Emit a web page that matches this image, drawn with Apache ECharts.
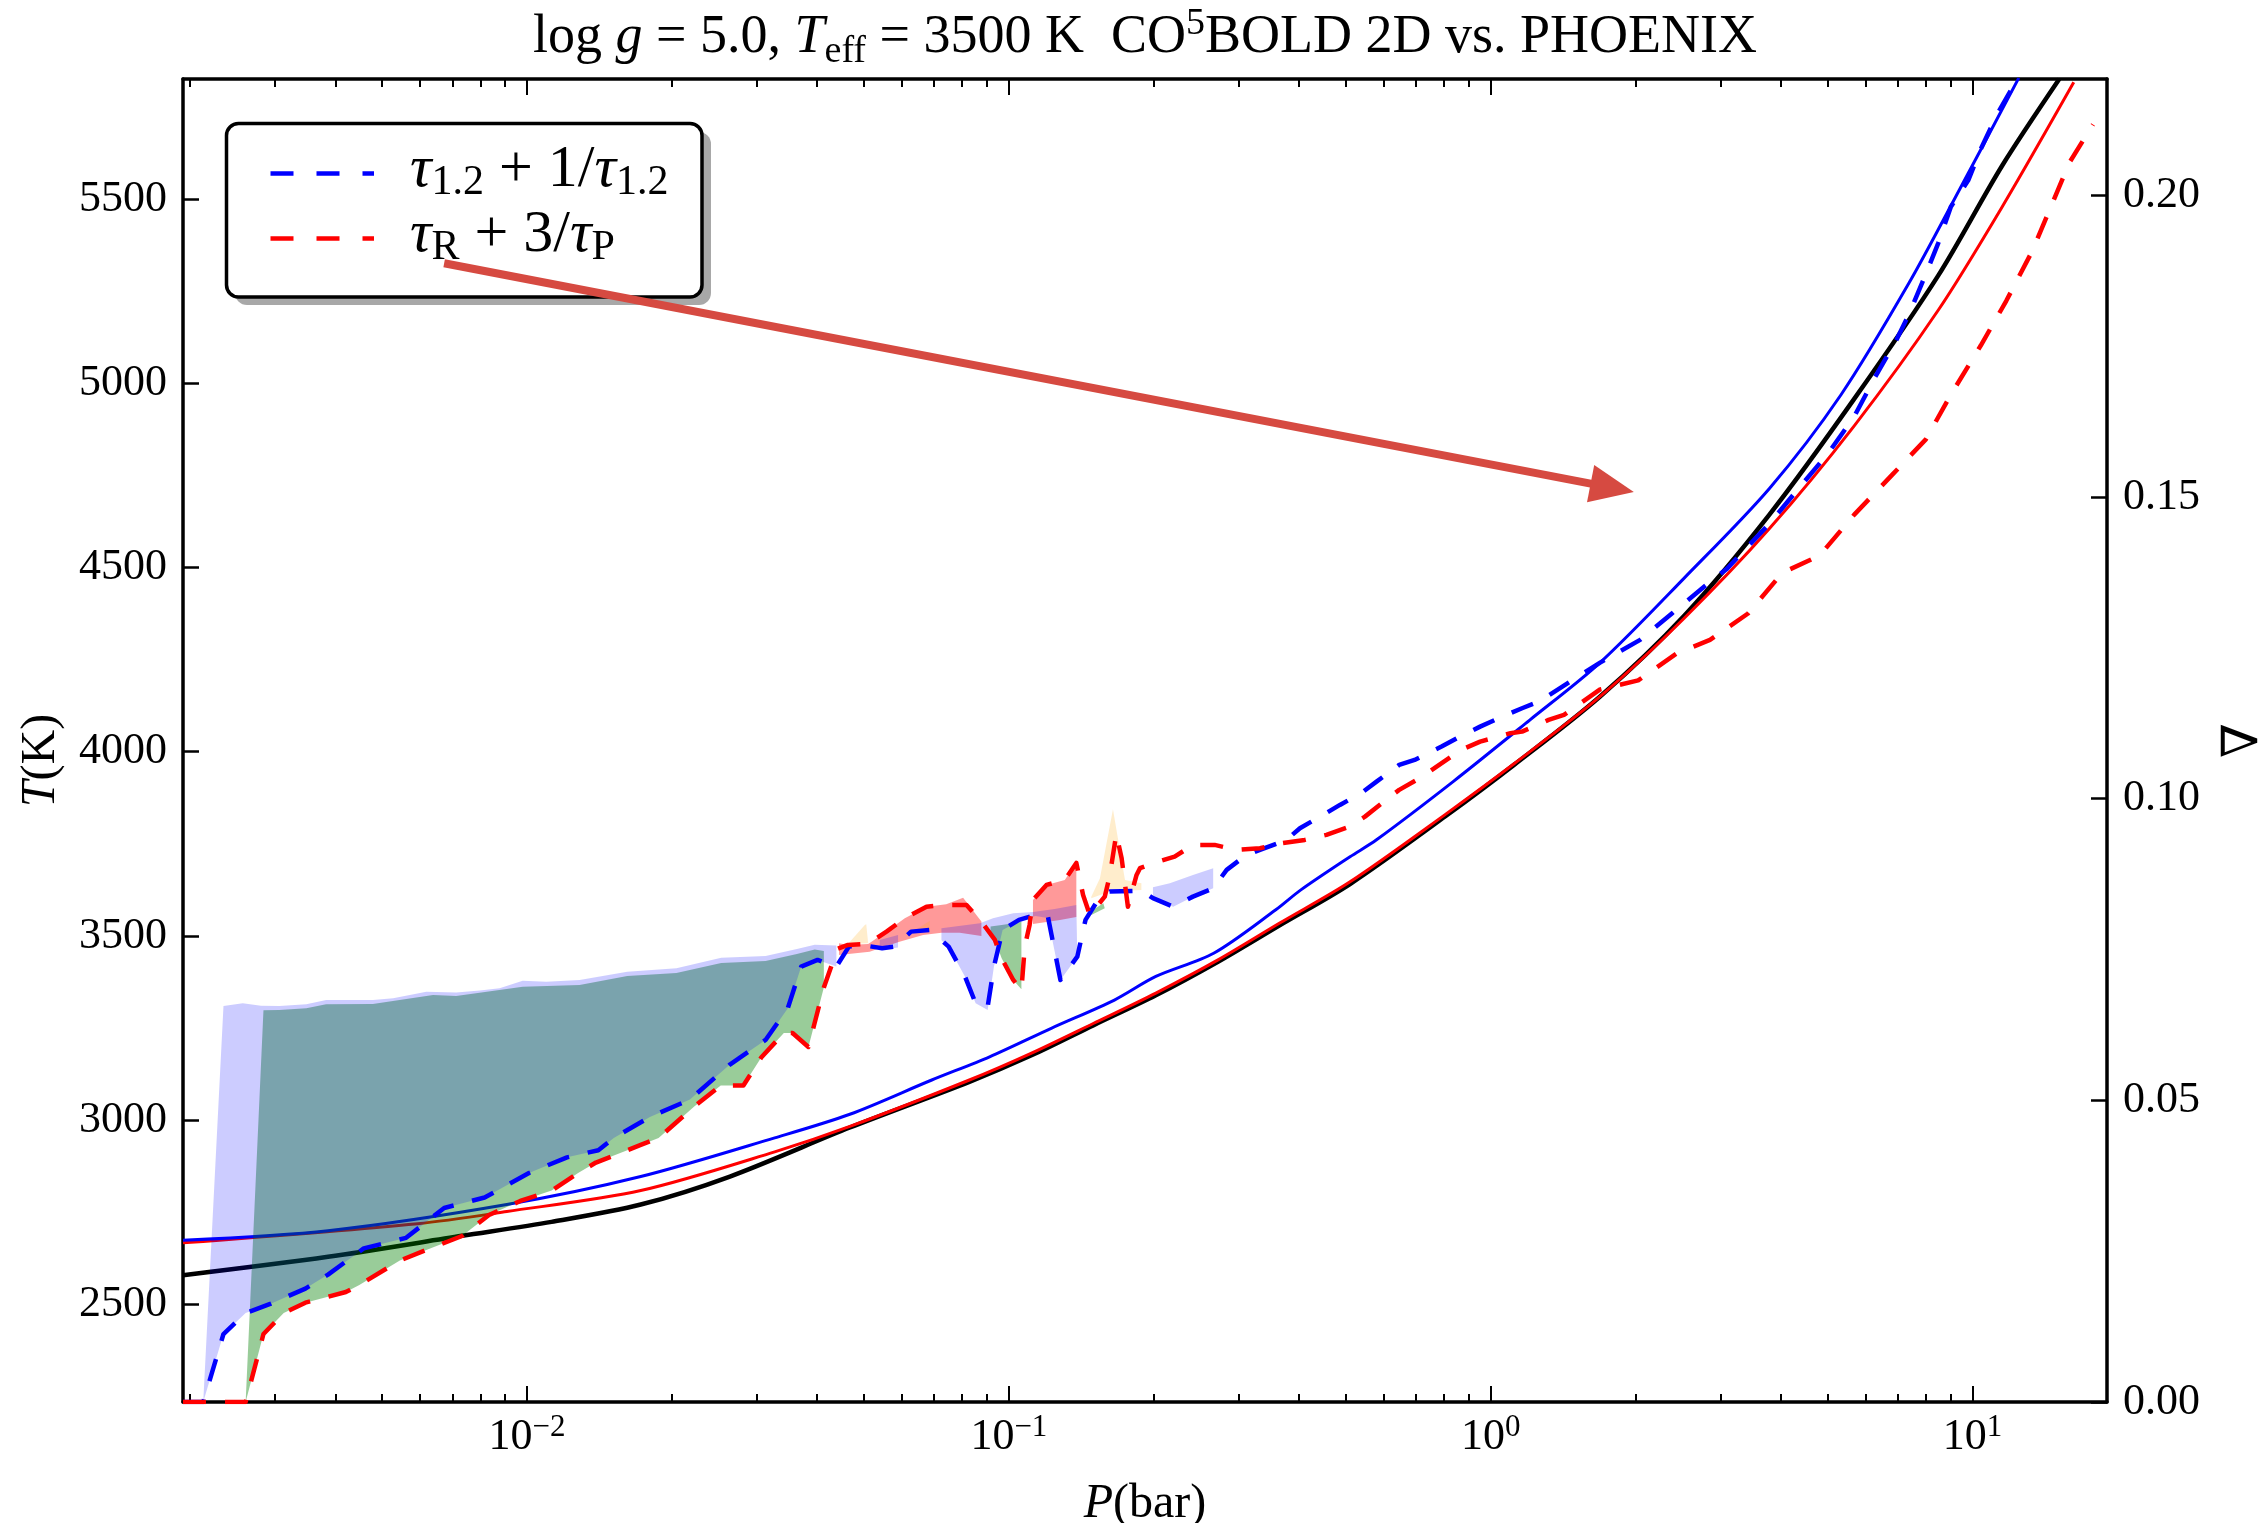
<!DOCTYPE html>
<html>
<head>
<meta charset="utf-8">
<script src="https://cdn.jsdelivr.net/npm/echarts@6.0.0/dist/echarts.min.js"></script>
<style>
html,body{margin:0;padding:0;background:#fff;}
#chart{width:2260px;height:1523px;}
</style>
</head>
<body>
<div id="chart"></div>
<script>
// ---------------- DATA (x = log10 P[bar]) ----------------
// Temperature profiles T(K) vs log10 P
const blackSolid = [[-2.714,2579],[-2.413,2629],[-2.135,2686],[-1.949,2724],[-1.764,2771],[-1.579,2847],[-1.330,2980],[-1.082,3104],[-0.953,3176],[-0.824,3258],[-0.695,3339],[-0.566,3430],[-0.438,3529],[-0.292,3641],[-0.094,3825],[0.049,3965],[0.227,4150],[0.402,4370],[0.578,4643],[0.754,4957],[0.929,5293],[1.061,5590],[1.180,5826]];
const redSolid = [[-2.714,2667],[-2.227,2719],[-2.042,2752],[-1.764,2809],[-1.486,2914],[-1.330,2983],[-1.082,3109],[-0.953,3182],[-0.824,3263],[-0.695,3345],[-0.566,3435],[-0.438,3535],[-0.292,3647],[-0.094,3830],[0.049,3968],[0.227,4150],[0.402,4363],[0.578,4605],[0.754,4884],[0.929,5199],[1.061,5478],[1.210,5817]];
const blueSolid = [[-2.714,2674],[-2.413,2700],[-2.042,2771],[-1.764,2847],[-1.486,2952],[-1.330,3016],[-1.160,3109],[-1.040,3172],[-0.911,3250],[-0.781,3326],[-0.695,3390],[-0.575,3453],[-0.446,3571],[-0.394,3625],[-0.292,3715],[-0.237,3761],[-0.078,3919],[0.081,4086],[0.227,4242],[0.402,4472],[0.578,4714],[0.727,4969],[0.868,5272],[0.973,5526],[1.096,5829]];

// Gradient nabla vs log10 P
const blueDashed = [[-2.714,0],[-2.672,0],[-2.630,0.01127],[-2.584,0.01475],[-2.533,0.01625],[-2.460,0.01880],[-2.413,0.02112],[-2.339,0.02546],[-2.251,0.02721],[-2.172,0.03216],[-2.088,0.03389],[-1.996,0.03796],[-1.917,0.04055],[-1.852,0.04173],[-1.820,0.04377],[-1.745,0.04725],[-1.662,0.05013],[-1.579,0.05594],[-1.505,0.06001],[-1.459,0.06524],[-1.431,0.07217],[-1.397,0.07328],[-1.358,0.07217],[-1.332,0.07548],[-1.306,0.07576],[-1.263,0.07522],[-1.237,0.07548],[-1.203,0.07797],[-1.164,0.07825],[-1.125,0.07548],[-1.091,0.07051],[-1.069,0.06610],[-1.044,0.06553],[-1.031,0.07217],[-1.013,0.07825],[-0.979,0.07991],[-0.945,0.08074],[-0.919,0.08046],[-0.893,0.06996],[-0.858,0.07382],[-0.841,0.07991],[-0.815,0.08322],[-0.791,0.08460],[-0.725,0.08477],[-0.701,0.08351],[-0.659,0.08211],[-0.618,0.08377],[-0.576,0.08516],[-0.548,0.08820],[-0.510,0.09052],[-0.479,0.09151],[-0.424,0.09317],[-0.396,0.09511],[-0.348,0.09731],[-0.313,0.09897],[-0.269,0.10091],[-0.237,0.10284],[-0.190,0.10560],[-0.158,0.10643],[-0.102,0.10864],[-0.070,0.11003],[-0.022,0.11195],[0.017,0.11335],[0.065,0.11500],[0.100,0.11610],[0.227,0.12256],[0.310,0.12633],[0.376,0.13070],[0.455,0.13594],[0.490,0.13810],[0.525,0.14108],[0.578,0.14556],[0.639,0.15143],[0.701,0.15734],[0.754,0.16330],[0.798,0.16993],[0.841,0.17590],[0.868,0.18029],[0.903,0.18695],[0.929,0.19214],[0.955,0.19811],[0.991,0.20250],[1.017,0.20768],[1.052,0.21360],[1.092,0.21916]];
const redDashed = [[-2.714,0],[-2.584,0],[-2.547,0.01127],[-2.505,0.01475],[-2.460,0.01646],[-2.376,0.01824],[-2.348,0.01940],[-2.264,0.02344],[-2.209,0.02520],[-2.135,0.02752],[-2.079,0.03100],[-2.014,0.03332],[-1.949,0.03505],[-1.894,0.03796],[-1.857,0.03969],[-1.764,0.04261],[-1.727,0.04377],[-1.653,0.04897],[-1.598,0.05245],[-1.551,0.05245],[-1.514,0.05710],[-1.467,0.06117],[-1.449,0.06117],[-1.416,0.05885],[-1.384,0.06872],[-1.356,0.07510],[-1.334,0.07576],[-1.292,0.07593],[-1.254,0.07797],[-1.216,0.08019],[-1.171,0.08211],[-1.130,0.08240],[-1.088,0.08240],[-1.057,0.07963],[-1.029,0.07659],[-1.015,0.07356],[-0.991,0.06996],[-0.974,0.06830],[-0.967,0.07548],[-0.957,0.07908],[-0.950,0.08322],[-0.922,0.08571],[-0.884,0.08654],[-0.860,0.08936],[-0.846,0.08405],[-0.832,0.08074],[-0.801,0.08377],[-0.791,0.08709],[-0.777,0.09416],[-0.766,0.09014],[-0.753,0.08211],[-0.735,0.08737],[-0.728,0.08848],[-0.701,0.08931],[-0.656,0.09040],[-0.618,0.09234],[-0.573,0.09234],[-0.527,0.09151],[-0.479,0.09180],[-0.434,0.09262],[-0.386,0.09317],[-0.341,0.09400],[-0.293,0.09538],[-0.261,0.09703],[-0.213,0.10008],[-0.190,0.10146],[-0.142,0.10367],[-0.062,0.10809],[-0.022,0.10947],[0.041,0.11086],[0.065,0.11113],[0.120,0.11306],[0.152,0.11389],[0.227,0.11812],[0.306,0.11961],[0.385,0.12404],[0.455,0.12633],[0.534,0.13070],[0.605,0.13743],[0.683,0.14034],[0.754,0.14705],[0.833,0.15368],[0.903,0.15957],[0.955,0.16698],[1.017,0.17512],[1.070,0.18253],[1.123,0.19065],[1.166,0.19879],[1.201,0.20545],[1.250,0.21176]];

// Upper boundaries of the large shaded regions (nabla)
const lavenderTop = [[-2.672,0],[-2.630,0.06565],[-2.590,0.06610],[-2.552,0.06570],[-2.514,0.06565],[-2.458,0.06593],[-2.417,0.06664],[-2.320,0.06664],[-2.278,0.06693],[-2.209,0.06802],[-2.147,0.06786],[-2.098,0.06819],[-2.057,0.06858],[-2.009,0.06984],[-1.960,0.06968],[-1.891,0.06996],[-1.792,0.07132],[-1.690,0.07190],[-1.597,0.07364],[-1.505,0.07394],[-1.440,0.07510],[-1.403,0.07580],[-1.358,0.07568]];
const greenTop = [[-2.584,0],[-2.547,0.06494],[-2.514,0.06499],[-2.458,0.06527],[-2.417,0.06593],[-2.320,0.06598],[-2.195,0.06747],[-2.147,0.06731],[-2.009,0.06885],[-1.891,0.06913],[-1.792,0.07062],[-1.690,0.07112],[-1.597,0.07278],[-1.505,0.07311],[-1.440,0.07427],[-1.403,0.07502],[-1.384,0.07477]];

// Small shaded regions (closed outlines, nabla)
const redPatchA = [[-1.3525,0.07604],[-1.334,0.07576],[-1.292,0.07593],[-1.254,0.07797],[-1.216,0.08019],[-1.171,0.08211],[-1.130,0.08251],[-1.095,0.08360],[-1.057,0.07963],[-1.057,0.07725],[-1.102,0.07780],[-1.140,0.07780],[-1.178,0.07742],[-1.227,0.07631],[-1.268,0.07522],[-1.289,0.07465],[-1.3525,0.07411]];
const redPatchC = [[-0.950,0.08322],[-0.922,0.08571],[-0.884,0.08654],[-0.860,0.08936],[-0.860,0.08040],[-0.894,0.07991],[-0.950,0.07925]];
const greenPatchC = [[-1.038,0.07880],[-1.015,0.07908],[-0.991,0.07936],[-0.974,0.07963],[-0.974,0.06842],[-0.991,0.06996],[-1.015,0.07356],[-1.029,0.07659],[-1.038,0.07797]];
const greenPatchD = [[-0.836,0.08107],[-0.804,0.08268],[-0.801,0.08185],[-0.829,0.08074]];
const orangePatchA = [[-1.334,0.07593],[-1.299,0.07908],[-1.296,0.07919],[-1.292,0.07604]];
const orangePatchB = [[-1.199,0.07797],[-1.164,0.07979],[-1.164,0.07808]];
const orangeSpike = [[-0.829,0.08377],[-0.811,0.08682],[-0.784,0.09826],[-0.759,0.08654],[-0.725,0.08599],[-0.725,0.08488],[-0.791,0.08460],[-0.829,0.08350]];
const lavenderPatchA = [[-1.268,0.07659],[-1.230,0.07742],[-1.230,0.07535],[-1.251,0.07510],[-1.268,0.07522]];
const lavenderPatchB = [[-1.140,0.07853],[-1.060,0.07936],[-1.033,0.08019],[-0.991,0.08102],[-0.950,0.08123],[-0.905,0.08173],[-0.860,0.08239],[-0.858,0.07382],[-0.893,0.06996],[-0.919,0.08024],[-0.945,0.08057],[-0.979,0.07974],[-1.013,0.07825],[-1.031,0.07217],[-1.044,0.06499],[-1.069,0.06610],[-1.091,0.07051],[-1.125,0.07548],[-1.140,0.07653]];
const lavenderPatchE = [[-0.701,0.08533],[-0.666,0.08599],[-0.618,0.08737],[-0.576,0.08848],[-0.576,0.08516],[-0.618,0.08377],[-0.659,0.08211],[-0.701,0.08350]];

// Annotation arrow (log10 P, T)
const arrowStart = [-2.172, 5326];
const arrowTip = [0.297, 4705];

// Axis ticks
const xMajorExp = [-2, -1, 0, 1];
const xMinorP = [0.002,0.003,0.004,0.005,0.006,0.007,0.008,0.009,0.02,0.03,0.04,0.05,0.06,0.07,0.08,0.09,0.2,0.3,0.4,0.5,0.6,0.7,0.8,0.9,2,3,4,5,6,7,8,9];
const tTicks = [2500,3000,3500,4000,4500,5000,5500];
const nablaTicks = [0,0.05,0.10,0.15,0.20];

// ---------------- STYLE ----------------
const FONT = "'Liberation Serif','DejaVu Serif',serif";
const XMIN = -2.714, XMAX = 1.279;
const C_GREEN = 'rgba(0,128,0,0.4)', C_RED = 'rgba(255,0,0,0.4)', C_ORANGE = 'rgba(255,165,0,0.2)', C_LAV = 'rgba(0,0,255,0.2)';
const ARROW = '#d64a41';

const polyBetween = (top, bottom) => top.concat(bottom.slice().reverse());
const fills = [
  {poly: polyBetween(greenTop, redDashed.slice(1, 25)), color: C_GREEN},
  {poly: greenPatchC, color: C_GREEN},
  {poly: greenPatchD, color: C_GREEN},
  {poly: redPatchA, color: C_RED},
  {poly: redPatchC, color: C_RED},
  {poly: orangePatchA, color: C_ORANGE},
  {poly: orangePatchB, color: C_ORANGE},
  {poly: orangeSpike, color: C_ORANGE},
  {poly: polyBetween(lavenderTop, blueDashed.slice(1, 23)), color: C_LAV},
  {poly: lavenderPatchA, color: C_LAV},
  {poly: lavenderPatchB, color: C_LAV},
  {poly: lavenderPatchE, color: C_LAV}
];

const minorLog = xMinorP.map(v => Math.log10(v));
const supText = e => (e < 0 ? '\u2212' + (-e) : String(e));

function xAxisDef(pos, major) {
  return {
    type: 'value', gridIndex: 0, position: pos, min: XMIN, max: XMAX, offset: 0,
    axisLine: {show: major, onZero: false, lineStyle: {color: '#000', width: 3.5}},
    axisTick: {show: true, inside: true, length: major ? 16 : 8, customValues: major ? xMajorExp : minorLog,
               lineStyle: {color: '#000', width: 2}},
    axisLabel: (major && pos === 'bottom') ? {
      show: true, customValues: xMajorExp, margin: 10,
      formatter: v => '{b|10}{s|' + supText(Math.round(v)) + '}',
      rich: {b: {fontFamily: FONT, fontSize: 44, lineHeight: 50, color: '#000'},
             s: {fontFamily: FONT, fontSize: 31, lineHeight: 40, verticalAlign: 'top', color: '#000'}}
    } : {show: false},
    splitLine: {show: false}
  };
}

const xAxes = [xAxisDef('bottom', true), xAxisDef('bottom', false), xAxisDef('top', true), xAxisDef('top', false)];
xAxes[0].name = '{i|P}{n|(bar)}';
xAxes[0].nameLocation = 'middle';
xAxes[0].nameGap = 78;
xAxes[0].nameTextStyle = {rich: {i: {fontFamily: FONT, fontSize: 48, fontStyle: 'italic', color: '#000'},
                                 n: {fontFamily: FONT, fontSize: 48, color: '#000'}}};

const yAxes = [
  {
    type: 'value', gridIndex: 0, position: 'left', min: 2235, max: 5826,
    axisLine: {show: true, onZero: false, lineStyle: {color: '#000', width: 3.5}},
    axisTick: {show: true, inside: true, length: 16, customValues: tTicks, lineStyle: {color: '#000', width: 2.5}},
    axisLabel: {show: true, customValues: tTicks, margin: 16, formatter: v => String(v),
                fontFamily: FONT, fontSize: 44, color: '#000'},
    splitLine: {show: false},
    name: '{i|T}{n|(K)}', nameLocation: 'middle', nameGap: 118, nameRotate: 90,
    nameTextStyle: {padding: [0, 40, 0, 0],
                    rich: {i: {fontFamily: FONT, fontSize: 48, fontStyle: 'italic', color: '#000'},
                           n: {fontFamily: FONT, fontSize: 48, color: '#000'}}}
  },
  {
    type: 'value', gridIndex: 0, position: 'right', min: 0, max: 0.2193,
    axisLine: {show: true, onZero: false, lineStyle: {color: '#000', width: 3.5}},
    axisTick: {show: true, inside: true, length: 16, customValues: nablaTicks, lineStyle: {color: '#000', width: 2.5}},
    axisLabel: {show: true, customValues: nablaTicks, margin: 16, formatter: v => v.toFixed(2),
                fontFamily: FONT, fontSize: 44, color: '#000'},
    splitLine: {show: false},
    name: '\u2207', nameLocation: 'middle', nameGap: 112, nameRotate: 90,
    nameTextStyle: {fontFamily: FONT, fontSize: 50, color: '#000'}
  }
];

function lineSeries(data, yIdx, color, width, dashed, z) {
  return {
    type: 'line', data: data, xAxisIndex: 0, yAxisIndex: yIdx, showSymbol: false, symbol: 'none',
    smooth: dashed ? false : 0.3,
    lineStyle: {color: color, width: width, type: dashed ? [23, 19] : 'solid', cap: 'butt', join: 'round'},
    z: z, silent: true, animation: false, clip: true
  };
}

const series = [
  lineSeries(blackSolid, 0, '#000000', 4.5, false, 2),
  lineSeries(redSolid, 0, '#ff0000', 3, false, 2),
  lineSeries(blueSolid, 0, '#0000ff', 3, false, 2),
  {
    type: 'custom', xAxisIndex: 0, yAxisIndex: 1, z: 3, silent: true, animation: false,
    data: fills.map((f, i) => [f.poly[0][0], f.poly[0][1], i]),
    encode: {x: 0, y: 1},
    renderItem: (params, api) => {
      const f = fills[params.dataIndex];
      return {type: 'polygon', shape: {points: f.poly.map(p => api.coord(p))}, style: {fill: f.color}};
    }
  },
  lineSeries(blueDashed, 1, '#0000ff', 4.5, true, 4),
  lineSeries(redDashed, 1, '#ff0000', 4.5, true, 4),
  {
    type: 'custom', xAxisIndex: 0, yAxisIndex: 0, z: 10, silent: true, animation: false,
    data: [[arrowStart[0], arrowStart[1], arrowTip[0], arrowTip[1]]],
    encode: {x: [0, 2], y: [1, 3]},
    renderItem: (params, api) => {
      const a = api.coord([api.value(0), api.value(1)]);
      const b = api.coord([api.value(2), api.value(3)]);
      const dx = b[0] - a[0], dy = b[1] - a[1], L = Math.hypot(dx, dy), ux = dx / L, uy = dy / L;
      const hL = 44, hW = 38;
      const bx = b[0] - ux * hL, by = b[1] - uy * hL;
      return {type: 'group', children: [
        {type: 'line', shape: {x1: a[0], y1: a[1], x2: bx + ux * 4, y2: by + uy * 4},
         style: {stroke: ARROW, lineWidth: 8, lineCap: 'butt'}},
        {type: 'polygon', shape: {points: [[b[0], b[1]], [bx - uy * hW / 2, by + ux * hW / 2], [bx + uy * hW / 2, by - ux * hW / 2]]},
         style: {fill: ARROW}}
      ]};
    }
  }
];

const richLegend = {
  i: {fontFamily: FONT, fontSize: 60, fontStyle: 'italic', lineHeight: 68, fill: '#000'},
  n: {fontFamily: FONT, fontSize: 60, lineHeight: 68, fill: '#000'},
  s: {fontFamily: FONT, fontSize: 42, lineHeight: 46, verticalAlign: 'bottom', fill: '#000'}
};
const richTitle = {
  n: {fontFamily: FONT, fontSize: 54, lineHeight: 66, fill: '#000'},
  i: {fontFamily: FONT, fontSize: 54, fontStyle: 'italic', lineHeight: 66, fill: '#000'},
  sub: {fontFamily: FONT, fontSize: 38, lineHeight: 36, verticalAlign: 'bottom', fill: '#000'},
  sup: {fontFamily: FONT, fontSize: 38, lineHeight: 44, verticalAlign: 'top', fill: '#000'}
};

const graphic = [
  {type: 'text', x: 1145, y: 38, z: 1,
   style: {text: '{n|log }{i|g}{n| = 5.0, }{i|T}{sub|eff}{n| = 3500 K  CO}{sup|5}{n|BOLD 2D vs. PHOENIX}',
           rich: richTitle, align: 'center', verticalAlign: 'middle'}},
  {type: 'rect', z: 1, shape: {x: 235, y: 132, width: 476, height: 173, r: 12}, style: {fill: '#a8a8a8'}},
  {type: 'rect', z: 1, shape: {x: 226.5, y: 123.5, width: 475.5, height: 173.5, r: 12},
   style: {fill: '#ffffff', stroke: '#000000', lineWidth: 3.5}},
  {type: 'line', z: 1, shape: {x1: 270.5, y1: 173.5, x2: 374, y2: 173.5},
   style: {stroke: '#0000ff', lineWidth: 4.5, lineDash: [23, 23]}},
  {type: 'line', z: 1, shape: {x1: 270.5, y1: 238.5, x2: 374, y2: 238.5},
   style: {stroke: '#ff0000', lineWidth: 4.5, lineDash: [23, 23]}},
  {type: 'text', x: 410, y: 170, z: 1,
   style: {text: '{i|\u03c4}{s|1.2}{n| + 1/}{i|\u03c4}{s|1.2}', rich: richLegend, align: 'left', verticalAlign: 'middle'}},
  {type: 'text', x: 410, y: 235, z: 1,
   style: {text: '{i|\u03c4}{s|R}{n| + 3/}{i|\u03c4}{s|P}', rich: richLegend, align: 'left', verticalAlign: 'middle'}}
];

const chart = echarts.init(document.getElementById('chart'), null, {renderer: 'canvas'});
chart.setOption({
  animation: false,
  backgroundColor: '#ffffff',
  grid: {left: 183, right: 153, top: 79, bottom: 121, containLabel: false, outerBoundsMode: 'none'},
  xAxis: xAxes,
  yAxis: yAxes,
  series: series,
  graphic: graphic
});
</script>
</body>
</html>
